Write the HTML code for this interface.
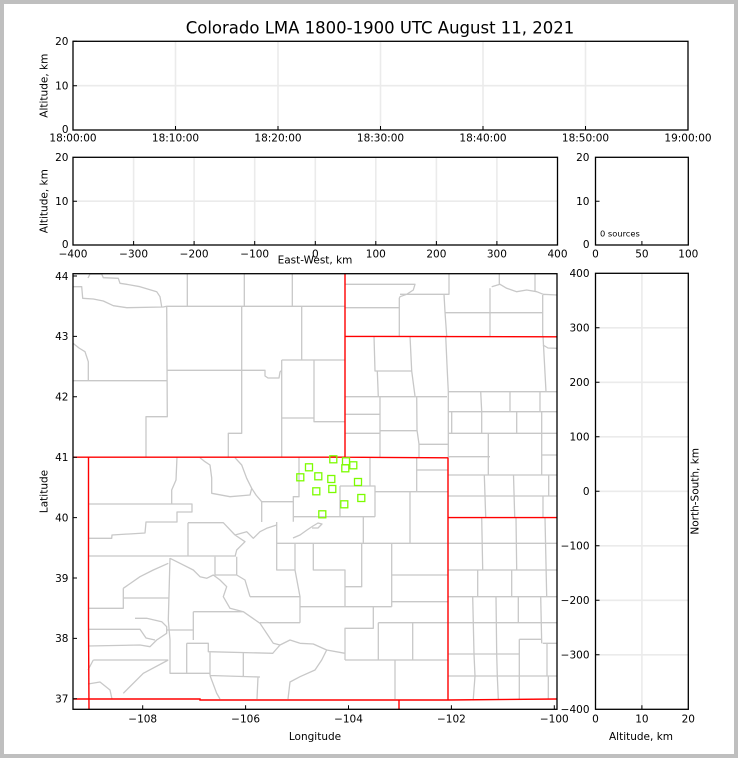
<!DOCTYPE html>
<html><head><meta charset="utf-8">
<style>
html,body{margin:0;padding:0;background:#bfbfbf;}
svg{display:block;}
text{font-family:"DejaVu Sans","Liberation Sans",sans-serif;fill:#000;}
.t{font-size:10.5px;}
.g{stroke:#ebebeb;stroke-width:1.6;fill:none;}
.c{stroke:#c8c8c8;stroke-width:1.3;fill:none;stroke-linejoin:round;}
.r{stroke:#ff0000;stroke-width:1.4;fill:none;}
.s{stroke:#000;stroke-width:1.3;fill:none;}
.k{stroke:#000;stroke-width:1;fill:none;}
.q{stroke:#7cfc00;stroke-width:1.3;fill:none;}
</style></head>
<body>
<svg width="738" height="758" viewBox="0 0 738 758" xmlns="http://www.w3.org/2000/svg">
<rect x="0" y="0" width="738" height="758" fill="#bfbfbf"/>
<rect x="4" y="4" width="730" height="750" fill="#ffffff"/>

<!-- Title -->
<text x="380" y="33.3" text-anchor="middle" style="font-size:16.5px">Colorado LMA 1800-1900 UTC August 11, 2021</text>

<!-- ===== Top panel ===== -->
<g class="g">
<path d="M175.5,41.3V130M278,41.3V130M380.5,41.3V130M483,41.3V130M585.5,41.3V130M73,85.7H688"/>
</g>
<rect x="73" y="41.3" width="615" height="88.7" class="s"/>
<g class="k">
<path d="M73,126V130M175.5,126V130M278,126V130M380.5,126V130M483,126V130M585.5,126V130M688,126V130M73,85.7H77M73,41.3H77"/>
</g>
<g class="t" text-anchor="end">
<text x="68.5" y="45.1">20</text>
<text x="68.5" y="89.5">10</text>
<text x="68.5" y="133">0</text>
</g>
<g class="t" text-anchor="middle">
<text x="73" y="141.7">18:00:00</text>
<text x="175.5" y="141.7">18:10:00</text>
<text x="278" y="141.7">18:20:00</text>
<text x="380.5" y="141.7">18:30:00</text>
<text x="483" y="141.7">18:40:00</text>
<text x="585.5" y="141.7">18:50:00</text>
<text x="688" y="141.7">19:00:00</text>
</g>
<text class="t" text-anchor="middle" transform="translate(47.5,85.7) rotate(-90)">Altitude, km</text>

<!-- ===== Middle panel ===== -->
<g class="g">
<path d="M133.6,157.3V245M194.1,157.3V245M254.7,157.3V245M315.3,157.3V245M375.8,157.3V245M436.4,157.3V245M496.9,157.3V245M73,201.2H557.5"/>
</g>
<rect x="73" y="157.3" width="484.5" height="87.7" class="s"/>
<g class="k">
<path d="M73,241V245M133.6,241V245M194.1,241V245M254.7,241V245M315.3,241V245M375.8,241V245M436.4,241V245M496.9,241V245M557.5,241V245M73,201.2H77"/>
</g>
<g class="t" text-anchor="end">
<text x="68.5" y="161.1">20</text>
<text x="68.5" y="205">10</text>
<text x="68.5" y="248">0</text>
</g>
<g class="t" text-anchor="middle">
<text x="73" y="257.5">−400</text>
<text x="133.6" y="257.5">−300</text>
<text x="194.1" y="257.5">−200</text>
<text x="254.7" y="257.5">−100</text>
<text x="315.3" y="257.5">0</text>
<text x="375.8" y="257.5">100</text>
<text x="436.4" y="257.5">200</text>
<text x="496.9" y="257.5">300</text>
<text x="557.5" y="257.5">400</text>
</g>
<text class="t" text-anchor="middle" transform="translate(47.5,201.2) rotate(-90)">Altitude, km</text>
<text class="t" x="315" y="263.5" text-anchor="middle">East-West, km</text>

<!-- ===== Small panel ===== -->
<rect x="595.5" y="157.3" width="92.8" height="87.7" class="s"/>
<g class="k">
<path d="M641.9,241V245M595.5,201.2H599.5"/>
</g>
<g class="t" text-anchor="end">
<text x="589.5" y="161.1">20</text>
<text x="589.5" y="205">10</text>
<text x="589.5" y="248">0</text>
</g>
<g class="t" text-anchor="middle">
<text x="595.5" y="257.5">0</text>
<text x="641.9" y="257.5">50</text>
<text x="688.3" y="257.5">100</text>
</g>
<text x="600" y="236.7" style="font-size:8.3px">0 sources</text>

<!-- ===== Map ===== -->
<defs><clipPath id="mc"><rect x="73" y="273.7" width="484" height="435.6"/></clipPath></defs>
<g clip-path="url(#mc)">
<!-- Wyoming counties -->
<path class="c" d="M73,286.7 L81.7,286.7 L82.7,298.3 L93.3,299 L103.3,301 L113.3,305.7 L126.7,307.7 L163.3,307 L166.7,306.3 L345,306.3
M88,278 L90,274 L101.7,274 L103.3,277.7 L118.3,278.3 L120,283.3 L126.7,284.3 L140,286.7 L156.7,291.7 L160,296.7 L161.7,306.7
M187.3,273.7 L187.3,306.3 M244.3,273.7 L244.3,306.3 M292.3,273.7 L292.3,306.3
M166.7,306.3 L167.3,416.7 L146,416.7 L146,457
M73,380.7 L166.7,380.7
M73,343.3 L79,348 L85,351.7 L88.3,361.7 L88.3,380.7
M166.7,370.3 L265,370.3 L265,376 L268,378 L279,378 L280,372 L281.7,370.3
M241.7,306.3 L241.7,433.3 L228.3,433.3 L228.3,457
M301.7,306.3 L301.7,360 M281.7,360 L345,360 M281.7,360 L281.7,457
M314,360 L314,421.7 L345,421.7 M282,418 L314,418"/>
<!-- South Dakota -->
<path class="c" d="M345,284.3 L415,284.3 L413.3,290 L406.7,294.3 L400,296.7 L399.3,298.3 L399.3,336
M345,307.7 L399.3,307.7
M400,294.3 L449,294.3 L449,273.7 M444,294.3 L445,312 L446.7,336
M445,312.7 L542.7,312.7 M490,288.3 L490,336
M491.7,286.7 L500,284.3 L506.7,288.3 L516.7,291.7 L526.7,290 L536.7,291.7 L543.3,294.3 L557,295
M499.3,273.7 L499.3,284.3 M535,273.7 L535,291 M542.7,295 L542.7,336
M543,345 L548,348 L557,348.3"/>
<!-- Nebraska -->
<path class="c" d="M374,336 L375,371 L411.7,371 M377.3,371 L378.3,396.7
M345,396.7 L447,396.7
M410,336 L411.7,371 L415,396
M445.7,336 L447,365 L448.3,391.7 L557,391.7
M543,336 L546,391.7
M480.7,391.7 L481.7,411.7 M510,391.7 L510,411.7 M540,391.7 L540,411.7
M448.3,411.7 L557,411.7
M345,414.3 L380,414.3
M345,433.3 L380,433.3 M380,430.7 L416.7,430.7 M448,433.3 L557,433.3
M380,396.7 L380,457 M416.7,396.7 L417,430 L419,444 L419,457 M419,444.3 L448,444.3
M448.3,391.7 L448.3,457
M451.7,411.7 L451.7,433.3 M481.7,411.7 L481.7,433.3 M516.7,411.7 L516.7,433.3
M541.7,411.7 L541.7,457 M488.3,433.3 L488.3,457
M448,456.7 L490,456.7 M542,455 L557,455
M448,475 L557,475 M488.3,457 L488.3,475 M541.7,457 L541.7,475
M484.3,475 L485.7,517 M513.5,475 L514.7,517 M548.7,475 L548.7,496 M543,496 L543,517
M448,496 L557,496"/>
<!-- Kansas -->
<path class="c" d="M448,543.3 L557,543.3 M448,570 L557,570 M448,596.7 L557,596.7 M448,622.7 L557,622.7
M448,654 L519.3,654 M448,676 L557,676 M519.3,639.3 L542,639.3 M542.7,643.3 L557,643.3
M481.7,517.6 L482.7,570 M516,517.6 L516.7,570 M545,517.6 L546.7,596.7
M477.7,570 L477.7,596.7 M511.7,570 L511.7,596.7
M472.7,596.7 L474,654 L475,676 L473.3,699
M496,596.7 L496.7,654 L497.3,676 L498.3,699
M518.3,596.7 L518.3,622.7 M540.7,596.7 L541.7,643.3
M519.3,639.3 L519.3,699 M547,643.3 L547,676 M548.3,676 L548.3,699"/>
<!-- Colorado -->
<path class="c" d="M177,457 L176,480 L171.7,490 L171.7,504
M88,504 L192,504 L192,512 L177,512 L177,522 L146,522 L145,533 L112,535 L111.7,538.3 L88,538.3
M88,556 L235,556
M188,522.7 L188,556
M188,522.7 L223.3,522.7 L235,535 L245,541.7 L236.7,550 L235,556.7
M235,535 L246.7,531.7 L253.3,538.3 L260,531.7 L266.7,528.3 L276.7,525
M200,457.7 L205,461.7 L210,465 L211.7,478 L211.7,493.3 L230,496.7 L250,495 L251.7,488.3 L246.7,478.3 L241.7,465 L235,457.7
M251.7,488.3 L256,495 L261.7,501.7 L261.7,522
M261.7,501.7 L293.3,501.7
M299,457 L299,496.7 L293.3,496.7 L293.3,521.7
M293.3,516.7 L375,516.7
M340,486 L375,486 L375,516.7 M340,486 L340,516.7 M370,457 L370,486
M375,491.7 L448,491.7 M410,491.7 L410,543.3
M416.7,457 L416.7,491.7 M416.7,470 L448,470
M363.3,516.7 L363.3,543.3
M293,538 L300,535 L307,530 L313,526 L318,523 L322,524 L318,528 L312,528
M276.7,522 L276.7,570 L295,570
M276.7,543.3 L448,543.3
M295,543.3 L295,570 L298,586 L300,596.7 L300,622.7
M313.3,543.3 L313.3,570 L345,570 L345,606.7
M361.7,543.3 L361.7,586.7 L345,586.7
M391.7,543.3 L391.7,606.7 M391.7,575 L448,575 M391.7,601.7 L448,601.7
M300,606.7 L391.7,606.7
M373.3,606.7 L373.3,628.3 L345,628.3 L345,660
M378.3,622.7 L448,622.7 M378.3,622.7 L378.3,660 M412.7,622.7 L412.7,660
M345,660 L448,660 M395,660 L395,699
M300,643.3 L313.3,644 L326.7,650 L345,653.3
M326.7,650 L321.7,660 L315,670 L300,676.7 L290,682 L288,699
M273,653 L280,645 L290,640 L300,643.3
M170,558 L168.3,620 L170,640 L170,673.3 L210,673.3
M123.3,588.3 L140,576.7 L153.3,570 L168.3,563.3
M123.3,588.3 L123.3,608.3 L88,608.3 M123.3,598 L168.3,598
M88,629.3 L140,629.3 L146,638 L155,640
M135,618.3 L146.7,618.3 L161.7,621.7 L166.7,626.7 L166.7,633.3 L156.7,640 L150,646.7 L140,645 L88,646
M166.7,630 L193.3,630 M193.3,611.7 L193.3,640
M193.3,611.7 L243.3,611.7
M186.7,643.3 L186.7,673.3
M186.7,643.3 L208.3,643.3 L208.3,651.7 L273.3,653.3
M210,651.7 L210,675.5 M243.3,653 L243.3,676.7
M210,675.5 L260,677 M258,677 L257,699 M210,675.5 L216.7,693.3 L220,699
M93.3,660 L168.3,660 M88,670 L93.3,660
M123.3,693.3 L143.3,673.3 L168.3,660
M170,558.3 L180,563.3 L193.3,570 L200,576.7 L206.7,578.3 L213.3,575 L220,580 L226.7,586.7 L223.3,596.7 L230,608.3 L243.3,611.7 L260,623.3 L273.3,643.3 L280,645
M250,596.7 L300,596.7 M260,622.7 L300,622.7
M236.7,556.7 L236.7,575 L215,575 L215,556.7
M236.7,575 L245,580 L250,596.7
M88,684 L100,682 L110,690 L112,699"/>
<!-- State borders -->
<path class="r" d="M73,457.2 L345,457.2 L448,457.8
M345,273.7 L345,457.2
M345,336.4 L557,336.8
M448,457.5 L448,700
M448,517.6 L557,517.6
M88.5,457 L88.5,623 L89,709.3
M73,699 L200,699 L200,700 L448,700 L557,699
M399,700 L399,709.3"/>
<!-- Sources -->
<g class="q">
<rect x="329.8" y="455.8" width="7" height="7"/>
<rect x="342.5" y="457.8" width="7" height="7"/>
<rect x="349.8" y="461.8" width="7" height="7"/>
<rect x="341.8" y="464.8" width="7" height="7"/>
<rect x="305.5" y="463.8" width="7" height="7"/>
<rect x="296.8" y="473.8" width="7" height="7"/>
<rect x="314.8" y="472.8" width="7" height="7"/>
<rect x="327.8" y="475.5" width="7" height="7"/>
<rect x="354.5" y="478.5" width="7" height="7"/>
<rect x="312.8" y="487.8" width="7" height="7"/>
<rect x="328.8" y="485.5" width="7" height="7"/>
<rect x="357.8" y="494.5" width="7" height="7"/>
<rect x="340.8" y="500.8" width="7" height="7"/>
<rect x="318.8" y="510.8" width="7" height="7"/>
</g>
</g>
<rect x="73" y="273.7" width="484" height="435.6" class="s"/>
<g class="k">
<path d="M73,276H77M73,336.4H77M73,396.8H77M73,457.2H77M73,517.6H77M73,578H77M73,638.4H77M73,698.8H77
M142.7,705.3V709.3M245.6,705.3V709.3M348.5,705.3V709.3M451.4,705.3V709.3M554.3,705.3V709.3"/>
</g>
<g class="t" text-anchor="end">
<text x="68.5" y="279.8">44</text>
<text x="68.5" y="340.2">43</text>
<text x="68.5" y="400.6">42</text>
<text x="68.5" y="461">41</text>
<text x="68.5" y="521.4">40</text>
<text x="68.5" y="581.8">39</text>
<text x="68.5" y="642.2">38</text>
<text x="68.5" y="702.6">37</text>
</g>
<g class="t" text-anchor="middle">
<text x="142.7" y="722.5">−108</text>
<text x="245.6" y="722.5">−106</text>
<text x="348.5" y="722.5">−104</text>
<text x="451.4" y="722.5">−102</text>
<text x="554.3" y="722.5">−100</text>
</g>
<text class="t" text-anchor="middle" transform="translate(47.5,491.5) rotate(-90)">Latitude</text>
<text class="t" x="315" y="740" text-anchor="middle">Longitude</text>

<!-- ===== Right panel ===== -->
<g class="g">
<path d="M595.5,327.8H688.3M595.5,382.3H688.3M595.5,436.8H688.3M595.5,491.3H688.3M595.5,545.8H688.3M595.5,600.3H688.3M595.5,654.8H688.3M641.9,273.3V709.3"/>
</g>
<rect x="595.5" y="273.3" width="92.8" height="436" class="s"/>
<g class="k">
<path d="M595.5,327.8H599.5M595.5,382.3H599.5M595.5,436.8H599.5M595.5,491.3H599.5M595.5,545.8H599.5M595.5,600.3H599.5M595.5,654.8H599.5M641.9,705.3V709.3"/>
</g>
<g class="t" text-anchor="end">
<text x="589.5" y="277.1">400</text>
<text x="589.5" y="331.6">300</text>
<text x="589.5" y="386.1">200</text>
<text x="589.5" y="440.6">100</text>
<text x="589.5" y="495.1">0</text>
<text x="589.5" y="549.6">−100</text>
<text x="589.5" y="604.1">−200</text>
<text x="589.5" y="658.6">−300</text>
<text x="589.5" y="713.1">−400</text>
</g>
<g class="t" text-anchor="middle">
<text x="595.5" y="722.5">0</text>
<text x="641.9" y="722.5">10</text>
<text x="688.3" y="722.5">20</text>
</g>
<text class="t" x="641" y="740" text-anchor="middle">Altitude, km</text>
<text class="t" text-anchor="middle" transform="translate(698.5,491.3) rotate(-90)">North-South, km</text>
</svg>
</body></html>
